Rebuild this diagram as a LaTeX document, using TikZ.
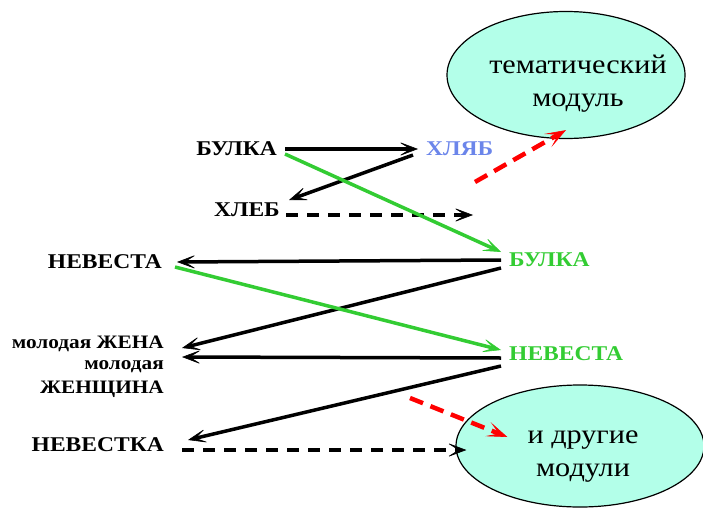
\documentclass[tikz,border=0pt]{standalone}
\usepackage{fontspec}
\setmainfont{Liberation Serif}[FakeStretch=1.12]
\usetikzlibrary{ arrows.meta,       % For the stealth tips
                 shapes.geometric,  % For the ellipses
                 positioning,
               }

\definecolor{modfill}{HTML}{B3FFE9}
\definecolor{wordblue}{HTML}{6B85EA}
\definecolor{wordgreen}{HTML}{33CC33}

\begin{document}
\begin{tikzpicture}[x=1pt, y=-1pt,
  word/.style={font=\fontsize{21}{24}\selectfont\bfseries, inner xsep=8pt, inner ysep=3pt},
  leftword/.style={word, anchor=east, inner xsep=18pt, align=right},
  smallword/.style={leftword, font=\fontsize{19}{24}\selectfont\bfseries},
  module/.style={ellipse, draw, line width=1.2pt, fill=modfill, inner sep=0pt},
  modtext/.style={align=center, font=\fontsize{27}{33}\selectfont},
  tip/.style={-{Stealth[length=20pt, width=15pt, inset=12pt, line width=0.6pt]}},
  link/.style={tip, line width=3.5pt},
  hint/.style={line width=4.5pt, red, dash pattern=on 14pt off 8pt,
               -{Stealth[length=21pt, width=15pt, inset=12pt, line width=0.6pt]}},
  ]
  \useasboundingbox (0,0) rectangle (703,508);

  % modules
  \node[module, minimum width=238pt, minimum height=127pt] (tema) at (566,75) {};
  \node[modtext] (tema_text) at (578,84) {тематический\\модуль};
  \node[module, minimum width=248pt, minimum height=122pt] (drugie) at (580,446) {};
  \node[modtext] (drugie_text) at (583,457) {и другие\\модули};

  % words
  \node[word, anchor=east] (bulka) at (285,149) {БУЛКА};
  \node[word, anchor=west, text=wordblue] (khlyab) at (418,149) {ХЛЯБ};
  \node[word, anchor=east] (khleb) at (288,210) {ХЛЕБ};
  \node[word, anchor=west, text=wordgreen] (bulka_g) at (501,260) {БУЛКА};
  \node[word, anchor=west, text=wordgreen] (nevesta_g) at (501,354) {НЕВЕСТА};

  \node[leftword] (nevesta) at (180,262) {НЕВЕСТА};
  \node[smallword] (zhena) at (182,344) {молодая ЖЕНА};
  \node[smallword] (zhenshchina) at (182,379) {молодая\\ЖЕНЩИНА};
  \node[leftword] (nevestka) at (182,445) {НЕВЕСТКА};

  \coordinate (khleb_end) at (473,215);
  \coordinate (red_top) at (475,182);
  \coordinate (red_bottom) at (410,398);

  % black links
  \draw[link] (bulka.east) -- (khlyab.west);
  \draw[link] ([shift={(-5,6)}]khlyab.west) -- ([shift={(1,-10)}]khleb.east);
  \draw[link, dash pattern=on 12pt off 9pt] ([shift={(-2,5)}]khleb.east) -- (khleb_end);
  \draw[link] (bulka_g.west) -- ([xshift=-3]nevesta.east);
  \draw[link] ([shift={(0,8)}]bulka_g.west) -- ([shift={(0,4)}]zhena.east);
  \draw[link] ([shift={(0,4)}]nevesta_g.west) -- ([shift={(0,-22)}]zhenshchina.east);
  \draw[link] ([shift={(0,12)}]nevesta_g.west) -- ([shift={(6,-5)}]nevestka.east);
  \draw[link, dash pattern=on 12pt off 9pt] ([shift={(0,5)}]nevestka.east) -- ([shift={(11,4)}]drugie.west);

  % green links
  \draw[link, wordgreen] ([shift={(0,5)}]bulka.east) -- ([shift={(0,-8)}]bulka_g.west);
  \draw[link, wordgreen] ([shift={(-5,5)}]nevesta.east) -- ([shift={(0,-4)}]nevesta_g.west);

  % red hints
  \draw[hint] (red_top) -- ([shift={(0,-9)}]tema.south);
  \draw[hint] (red_bottom) -- ([shift={(52,-9)}]drugie.west);
\end{tikzpicture}
\end{document}
